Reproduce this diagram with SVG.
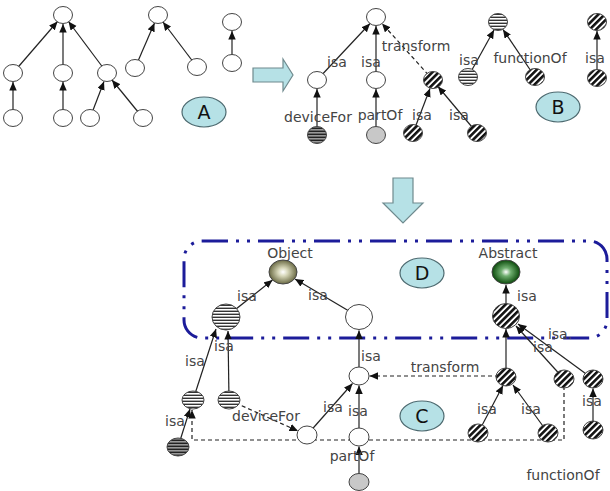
<svg xmlns="http://www.w3.org/2000/svg" width="610" height="491" viewBox="0 0 610 491">
<style>
.e{fill:none;stroke:#222;stroke-width:1.2;marker-end:url(#ah)}
.d{stroke-dasharray:4 3}
.n{stroke:#444;stroke-width:1}
.w{fill:#fff}
.hs{fill:url(#hs)}
.ds{fill:url(#ds)}
.dg{fill:url(#dg)}
.g{fill:#c8c8c8}
.t{font-family:"DejaVu Sans",Verdana,sans-serif;font-size:14px;fill:#444;text-anchor:middle}
.L{fill:#b6e1e6;stroke:#4d6a70;stroke-width:1.2}
.lt{font-family:"DejaVu Sans",Verdana,sans-serif;font-size:19px;fill:#111;text-anchor:middle}
.blk{fill:#b6e1e6;stroke:#6f8a8e;stroke-width:1.2}
</style>
<defs>
<marker id="ah" markerUnits="userSpaceOnUse" markerWidth="9" markerHeight="8" refX="8.5" refY="3.75" orient="auto"><path d="M0,0 L8.5,3.75 L0,7.5 z" fill="#111"/></marker>
<pattern id="hs" patternUnits="userSpaceOnUse" width="6" height="3"><rect width="6" height="3" fill="#fff"/><rect y="1.6" width="6" height="1.4" fill="#333"/></pattern>
<pattern id="ds" patternUnits="userSpaceOnUse" width="6" height="3"><rect width="6" height="3" fill="#999"/><rect y="1.6" width="6" height="1.4" fill="#222"/></pattern>
<pattern id="dg" patternUnits="userSpaceOnUse" width="4.5" height="4.5" patternTransform="rotate(45)"><rect width="4.5" height="4.5" fill="#fff"/><rect width="2.6" height="4.5" fill="#111"/></pattern>
<radialGradient id="og" cx="50%" cy="50%" r="50%"><stop offset="0" stop-color="#ffffff"/><stop offset="0.35" stop-color="#d6d6b8"/><stop offset="1" stop-color="#6a6a44"/></radialGradient>
<radialGradient id="ag" cx="50%" cy="50%" r="50%"><stop offset="0" stop-color="#ffffff"/><stop offset="0.35" stop-color="#6fae6f"/><stop offset="1" stop-color="#0b4a0b"/></radialGradient>
</defs>
<rect width="610" height="491" fill="#fff"/>

<!-- D box -->
<rect id="boxD" x="184" y="241" width="423" height="97" rx="18" fill="none" stroke="#1c1c9a" stroke-width="3" stroke-dasharray="26 8 3 8 3 8"/>

<!-- block arrows -->
<polygon id="arrowAB" class="blk" points="253,68 283,68 283,59 293,75 283,91 283,82 253,82"/>
<polygon id="arrowBC" class="blk" points="393,178 413,178 413,203 423,203 403,223 383,203 393,203"/>

<g id="connectors">
<!-- A -->
<path class="e" d="M13,73 L57.5,21.5"/>
<path class="e" d="M63,73 L63,24"/>
<path class="e" d="M107,73 L68.5,21.5"/>
<path class="e" d="M13,118 L13,82"/>
<path class="e" d="M63,118 L63,82"/>
<path class="e" d="M90,118 L104,81.5"/>
<path class="e" d="M143,118 L112,80"/>
<path class="e" d="M135,68 L154.5,23"/>
<path class="e" d="M197,67 L163,22"/>
<path class="e" d="M232,63 L232,31"/>
<!-- B -->
<path class="e" d="M317,80 L370,23.5"/>
<path class="e" d="M376,80 L376,26"/>
<path class="e d" d="M433,80 L382,23.5"/>
<path class="e" d="M317,135 L317,89"/>
<path class="e" d="M376,135 L376,89"/>
<path class="e" d="M413,133 L430,88.5"/>
<path class="e" d="M477,133 L438,86.5"/>
<path class="e" d="M468,77 L494,30"/>
<path class="e" d="M535,77 L503,29.5"/>
<path class="e" d="M597,78 L597,31"/>
<!-- C / D -->
<path class="e" d="M226,317 L272.5,280"/>
<path class="e" d="M359,317 L295,279"/>
<path class="e" d="M506,316 L506,285"/>
<path class="e" d="M359,376 L359,330.5"/>
<path class="e" d="M193,400 L216,329"/>
<path class="e" d="M229,400 L228,331"/>
<path class="e" d="M178,447 L190,409"/>
<path class="e d" d="M564,379 L564,440 L192,440 L192,410"/>
<path class="e d" d="M229,400 L298,431"/>
<path class="e" d="M307,435 L352.5,383.5"/>
<path class="e" d="M359,437 L359,385.5"/>
<path class="e" d="M359,482 L359,446.5"/>
<path class="e d" d="M506,376 L369.5,376"/>
<path class="e" d="M506,377 L506,329"/>
<path class="e" d="M564,379 L516,326"/>
<path class="e" d="M593,379 L518,324"/>
<path class="e" d="M478,433 L503,385.5"/>
<path class="e" d="M548,433 L513,385"/>
<path class="e" d="M593,430 L593,388.5"/>
</g>

<g id="labels">
<text class="t" x="337" y="67">isa</text>
<text class="t" x="371" y="67">isa</text>
<text class="t" x="416" y="51">transform</text>
<text class="t" x="318" y="122">deviceFor</text>
<text class="t" x="380" y="120">partOf</text>
<text class="t" x="422" y="120">isa</text>
<text class="t" x="459" y="120">isa</text>
<text class="t" x="469" y="65">isa</text>
<text class="t" x="530" y="63">functionOf</text>
<text class="t" x="595" y="63">isa</text>
<text class="t" x="247" y="301">isa</text>
<text class="t" x="318" y="300">isa</text>
<text class="t" x="527" y="301">isa</text>
<text class="t" x="560" y="339">isa.</text>
<text class="t" x="543" y="352">isa</text>
<text class="t" x="371" y="361">isa</text>
<text class="t" x="195" y="366">isa</text>
<text class="t" x="224" y="351">isa</text>
<text class="t" x="175" y="426">isa</text>
<text class="t" x="266" y="421">deviceFor</text>
<text class="t" x="333" y="412">isa</text>
<text class="t" x="358" y="416">isa</text>
<text class="t" x="352" y="461">partOf</text>
<text class="t" x="445" y="372">transform</text>
<text class="t" x="487" y="414">isa</text>
<text class="t" x="531" y="414">isa</text>
<text class="t" x="592" y="406">isa</text>
<text class="t" x="563" y="480">functionOf</text>
</g>

<!-- A nodes -->
<g id="a1"><ellipse class="n w" cx="63" cy="15" rx="9.5" ry="8.5"/></g>
<g id="a2"><ellipse class="n w" cx="13" cy="73" rx="9.5" ry="8.5"/></g>
<g id="a3"><ellipse class="n w" cx="63" cy="73" rx="9.5" ry="8.5"/></g>
<g id="a4"><ellipse class="n w" cx="107" cy="73" rx="9.5" ry="8.5"/></g>
<g id="a5"><ellipse class="n w" cx="13" cy="118" rx="9.5" ry="8.5"/></g>
<g id="a6"><ellipse class="n w" cx="63" cy="118" rx="9.5" ry="8.5"/></g>
<g id="a7"><ellipse class="n w" cx="90" cy="118" rx="9.5" ry="8.5"/></g>
<g id="a8"><ellipse class="n w" cx="143" cy="118" rx="9.5" ry="8.5"/></g>
<g id="a9"><ellipse class="n w" cx="158" cy="15" rx="9.5" ry="8.5"/></g>
<g id="a10"><ellipse class="n w" cx="135" cy="68" rx="9.5" ry="8.5"/></g>
<g id="a11"><ellipse class="n w" cx="197" cy="67" rx="9.5" ry="8.5"/></g>
<g id="a12"><ellipse class="n w" cx="232" cy="22" rx="9.5" ry="8.5"/></g>
<g id="a13"><ellipse class="n w" cx="232" cy="63" rx="9.5" ry="8.5"/></g>
<g id="labelA"><ellipse class="L" cx="204" cy="112" rx="22" ry="15"/><text class="lt" x="204" y="119">A</text></g>

<!-- B nodes -->
<g id="b1"><ellipse class="n w" cx="376" cy="17" rx="9.5" ry="8.5"/></g>
<g id="b2"><ellipse class="n w" cx="317" cy="80" rx="9.5" ry="8.5"/></g>
<g id="b3"><ellipse class="n w" cx="376" cy="80" rx="9.5" ry="8.5"/></g>
<g id="b4"><ellipse class="n dg" cx="433" cy="80" rx="9.5" ry="8.5"/></g>
<g id="b5"><ellipse class="n ds" cx="317" cy="135" rx="9.5" ry="8.5"/></g>
<g id="b6"><ellipse class="n g" cx="376" cy="135" rx="9.5" ry="8.5"/></g>
<g id="b7"><ellipse class="n dg" cx="413" cy="133" rx="9.5" ry="8.5"/></g>
<g id="b8"><ellipse class="n dg" cx="477" cy="133" rx="9.5" ry="8.5"/></g>
<g id="b9"><ellipse class="n hs" cx="498" cy="22" rx="9.5" ry="8.5"/></g>
<g id="b10"><ellipse class="n hs" cx="468" cy="77" rx="9.5" ry="8.5"/></g>
<g id="b11"><ellipse class="n dg" cx="535" cy="77" rx="9.5" ry="8.5"/></g>
<g id="b12"><ellipse class="n dg" cx="597" cy="22" rx="9.5" ry="8.5"/></g>
<g id="b13"><ellipse class="n dg" cx="597" cy="78" rx="9.5" ry="8.5"/></g>
<g id="labelB"><ellipse class="L" cx="558" cy="107" rx="22" ry="15"/><text class="lt" x="558" y="114">B</text></g>

<!-- D nodes -->
<g id="object"><ellipse class="n" fill="url(#og)" cx="283" cy="272" rx="14" ry="12"/><text class="t" x="290" y="258">Object</text></g>
<g id="abstract"><ellipse class="n" fill="url(#ag)" cx="506" cy="272" rx="14" ry="12"/><text class="t" x="508" y="258">Abstract</text></g>
<g id="d1"><ellipse class="n hs" cx="226" cy="317" rx="14" ry="13"/></g>
<g id="d2"><ellipse class="n w" cx="359" cy="317" rx="13.5" ry="12.5"/></g>
<g id="d3"><ellipse class="n dg" cx="506" cy="316" rx="13.5" ry="12.5"/></g>
<g id="labelD"><ellipse class="L" cx="422" cy="273" rx="22" ry="15"/><text class="lt" x="422" y="280">D</text></g>

<!-- C nodes -->
<g id="c1"><ellipse class="n hs" cx="193" cy="400" rx="11" ry="9"/></g>
<g id="c2"><ellipse class="n hs" cx="229" cy="400" rx="11" ry="9"/></g>
<g id="c3"><ellipse class="n ds" cx="178" cy="447" rx="11" ry="9"/></g>
<g id="c4"><ellipse class="n w" cx="307" cy="435" rx="10" ry="9"/></g>
<g id="c5"><ellipse class="n w" cx="359" cy="376" rx="10" ry="9"/></g>
<g id="c6"><ellipse class="n w" cx="359" cy="437" rx="10" ry="9"/></g>
<g id="c7"><ellipse class="n g" cx="359" cy="482" rx="10" ry="8.5"/></g>
<g id="c8"><ellipse class="n dg" cx="506" cy="377" rx="10" ry="9"/></g>
<g id="c9"><ellipse class="n dg" cx="564" cy="379" rx="10" ry="9"/></g>
<g id="c10"><ellipse class="n dg" cx="593" cy="379" rx="10" ry="9"/></g>
<g id="c11"><ellipse class="n dg" cx="478" cy="433" rx="10" ry="9"/></g>
<g id="c12"><ellipse class="n dg" cx="548" cy="433" rx="10" ry="9"/></g>
<g id="c13"><ellipse class="n dg" cx="593" cy="430" rx="10" ry="9"/></g>
<g id="labelC"><ellipse class="L" cx="422" cy="416" rx="22" ry="15"/><text class="lt" x="422" y="423">C</text></g>
</svg>
